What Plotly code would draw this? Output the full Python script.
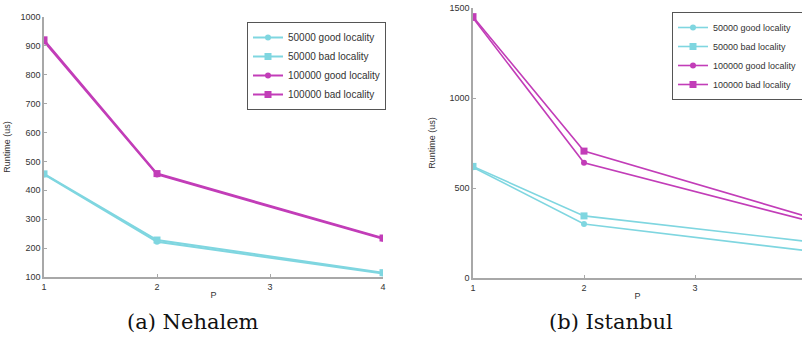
import plotly.graph_objects as go

# ---- data ----
p_values = [1, 2, 4]
series_names = ["50000 good locality", "50000 bad locality",
                "100000 good locality", "100000 bad locality"]

neh_50k_good = [455, 222, 112]
neh_50k_bad = [457, 228, 115]
neh_100k_good = [915, 455, 232]
neh_100k_bad = [921, 458, 235]

ist_50k_good = [615, 300, 152]
ist_50k_bad = [620, 345, 204]
ist_100k_good = [1445, 640, 321]
ist_100k_bad = [1452, 705, 343]

x_ticks = [1, 2, 3, 4]
neh_y_ticks = [100, 200, 300, 400, 500, 600, 700, 800, 900, 1000]
ist_y_ticks = [0, 500, 1000, 1500]

CYAN = "#7fd6e0"
MAGENTA = "#c23db8"
colors = [CYAN, CYAN, MAGENTA, MAGENTA]
symbols = ["circle", "square", "circle", "square"]
sizes = [6, 7, 6, 7]

fig = go.Figure()

neh_data = [neh_50k_good, neh_50k_bad, neh_100k_good, neh_100k_bad]
ist_data = [ist_50k_good, ist_50k_bad, ist_100k_good, ist_100k_bad]

for name, ys, c, s, sz in zip(series_names, neh_data, colors, symbols, sizes):
    fig.add_trace(go.Scatter(
        x=p_values, y=ys, name=name, mode="lines+markers",
        line=dict(color=c, width=2), marker=dict(color=c, symbol=s, size=sz),
        xaxis="x", yaxis="y", legend="legend"))

for name, ys, c, s, sz in zip(series_names, ist_data, colors, symbols, sizes):
    fig.add_trace(go.Scatter(
        x=p_values, y=ys, name=name, mode="lines+markers",
        line=dict(color=c, width=1.6), marker=dict(color=c, symbol=s, size=sz),
        xaxis="x2", yaxis="y2", legend="legend2", cliponaxis=True))

W, H = 802, 343
FONT = "Liberation Sans, Arial, sans-serif"
tick_font = dict(family=FONT, size=9, color="#333")
title_font = dict(family=FONT, size=9, color="#333")
axis_common = dict(showline=True, linecolor="#a8a8a8", linewidth=1.5,
                   ticks="inside", ticklen=3, tickcolor="#a8a8a8",
                   showgrid=False, zeroline=False, tickfont=tick_font,
                   mirror=False, automargin=False)

legend_common = dict(bgcolor="white", bordercolor="#555", borderwidth=1,
                     itemwidth=30, tracegroupgap=0, xanchor="left", yanchor="top")

fig.update_layout(
    width=W, height=H,
    margin=dict(l=0, r=0, t=0, b=0, autoexpand=False),
    paper_bgcolor="white", plot_bgcolor="white",
    showlegend=True,
    xaxis=dict(domain=[44 / W, 383 / W], range=[1, 4], tickvals=x_ticks,
               anchor="y", title=dict(text="P", font=title_font, standoff=1),
               **axis_common),
    yaxis=dict(domain=[(H - 277) / H, (H - 17) / H], range=[100, 1000],
               tickvals=neh_y_ticks, anchor="x",
               title=dict(text="Runtime (us)", font=title_font, standoff=8),
               **axis_common),
    xaxis2=dict(domain=[473 / W, 1.0], range=[1, 1 + (802 - 473) / 111],
                tickvals=x_ticks, anchor="y2",
                title=dict(text="P", font=title_font, standoff=1),
                **axis_common),
    yaxis2=dict(domain=[(H - 278) / H, (H - 8) / H], range=[0, 1500],
                tickvals=ist_y_ticks, anchor="x2",
                title=dict(text="Runtime (us)", font=title_font, standoff=12),
                **axis_common),
    legend=dict(x=247 / W, y=1 - 22 / H,
                font=dict(family=FONT, size=10, color="#333"), **legend_common),
    legend2=dict(x=672 / W, y=1 - 12 / H,
                 font=dict(family=FONT, size=9, color="#333"), **legend_common),
    annotations=[
        dict(text="(a) Nehalem", x=193 / W, y=1 - 322 / H, xref="paper", yref="paper",
             xanchor="center", yanchor="middle",
             showarrow=False, font=dict(family="DejaVu Serif", size=21, color="#111")),
        dict(text="(b) Istanbul", x=611 / W, y=1 - 322 / H, xref="paper", yref="paper",
             xanchor="center", yanchor="middle",
             showarrow=False, font=dict(family="DejaVu Serif", size=21, color="#111")),
    ],
)

fig.write_html("out.html", config={"displayModeBar": False},
               post_script="document.body.style.margin='0';document.body.style.overflow='hidden';")
